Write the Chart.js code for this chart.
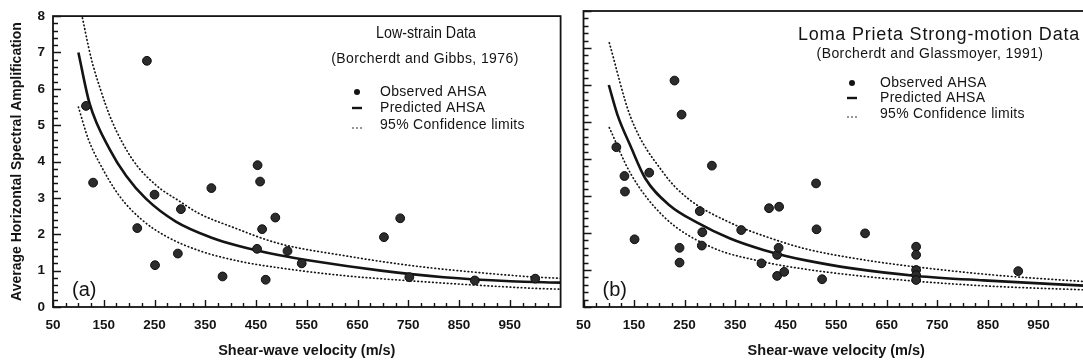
<!DOCTYPE html>
<html>
<head>
<meta charset="utf-8">
<title>Average horizontal spectral amplification vs shear-wave velocity</title>
<script src="https://cdn.jsdelivr.net/npm/chart.js@4.4.1/dist/chart.umd.min.js"></script>
<style>
  html, body { margin: 0; padding: 0; background: #fff; overflow: hidden; }
  #wrap { position: relative; width: 1083px; height: 362px; overflow: hidden; }
  canvas { position: absolute; top: 0; }
  #chartA { left: 0; }
  #chartB { left: 566px; }
</style>
</head>
<body>
<div id="wrap">
  <canvas id="chartA" width="566" height="362"></canvas>
  <canvas id="chartB" width="534" height="362"></canvas>
</div>
<script>
// tick labels shared by both panels
const velTicks = [50, 150, 250, 350, 450, 550, 650, 750, 850, 950];
const ampTicks = [0, 1, 2, 3, 4, 5, 6, 7, 8];

// (a) low-strain data, Borcherdt and Gibbs 1976
const lowObsVel = [115, 129, 216, 235, 250, 251, 296, 302, 362, 384, 452, 453, 458, 462, 469, 488, 512, 540, 702, 734, 752, 881, 1000];
const lowObsAmp = [5.53, 3.42, 2.17, 6.77, 3.09, 1.15, 1.47, 2.69, 3.27, 0.84, 1.60, 3.90, 3.45, 2.14, 0.75, 2.46, 1.54, 1.20, 1.92, 2.44, 0.82, 0.73, 0.78];
const lowPredVel = [100, 122, 162, 194, 233, 292, 364, 416, 494, 559, 696, 820, 951, 1050];
const lowPredAmp = [7.0, 5.6, 4.33, 3.61, 2.98, 2.35, 1.9, 1.68, 1.43, 1.27, 1.0, 0.82, 0.71, 0.67];
const lowUpperVel = [108, 125, 142, 165, 207, 253, 298, 338, 403, 494, 625, 755, 886, 1003, 1050];
const lowUpperAmp = [7.95, 6.85, 6.05, 5.15, 4.05, 3.35, 2.92, 2.57, 2.2, 1.75, 1.41, 1.14, 0.95, 0.82, 0.79];
const lowLowerVel = [100, 120, 142, 181, 225, 272, 338, 420, 494, 625, 755, 886, 1003, 1050];
const lowLowerAmp = [5.5, 4.6, 3.95, 3.05, 2.4, 1.95, 1.55, 1.25, 1.08, 0.86, 0.72, 0.6, 0.51, 0.49];

// (b) Loma Prieta strong-motion data, Borcherdt and Glassmoyer 1991
const lpObsVel = [115, 131, 132, 151, 180, 230, 240, 240, 244, 280, 284, 285, 304, 362, 402, 417, 433, 433, 436, 437, 447, 510, 511, 522, 607, 708, 708, 708, 708, 708, 910];
const lpObsAmp = [4.32, 3.54, 3.12, 1.83, 3.63, 6.12, 1.60, 1.20, 5.20, 2.59, 1.66, 2.02, 3.82, 2.08, 1.18, 2.67, 1.41, 0.84, 1.60, 2.71, 0.95, 3.34, 2.10, 0.75, 1.99, 1.63, 1.41, 1.00, 0.86, 0.73, 0.97];
const lpPredVel = [100, 117, 143, 172, 220, 275, 340, 406, 450, 490, 578, 709, 841, 1050];
const lpPredAmp = [6.0, 5.2, 4.35, 3.48, 2.75, 2.28, 1.85, 1.54, 1.38, 1.26, 1.05, 0.84, 0.72, 0.57];
const lpUpperVel = [101, 143, 209, 255, 340, 420, 490, 611, 742, 874, 1050];
const lpUpperAmp = [7.14, 5.14, 3.61, 2.95, 2.28, 1.86, 1.57, 1.26, 1.03, 0.85, 0.68];
const lpLowerVel = [101, 143, 209, 301, 406, 490, 611, 742, 874, 1050];
const lpLowerAmp = [4.85, 3.61, 2.44, 1.63, 1.22, 1.02, 0.82, 0.66, 0.55, 0.46];

const INK = '#141414';
const SANS = "'Liberation Sans', Arial, Helvetica, sans-serif";

const pts = (xs, ys) => xs.map((x, i) => ({ x, y: ys[i] }));

function panelData(obsV, obsA, predV, predA, upV, upA, loV, loA) {
  const dotted = { showLine: true, borderColor: INK, borderWidth: 1.7, borderDash: [0.6, 3.1],
    borderCapStyle: 'round', pointRadius: 0, cubicInterpolationMode: 'monotone' };
  return {
    datasets: [
      { label: 'Observed AHSA', data: pts(obsV, obsA), showLine: false, pointRadius: 4.4,
        pointBackgroundColor: '#2c2c2c', pointBorderColor: '#0c0c0c', pointBorderWidth: 1 },
      { label: 'Predicted AHSA', data: pts(predV, predA), showLine: true, borderColor: INK,
        borderWidth: 2.6, pointRadius: 0, cubicInterpolationMode: 'monotone' },
      Object.assign({ label: 'Upper 95%', data: pts(upV, upA) }, dotted),
      Object.assign({ label: 'Lower 95%', data: pts(loV, loA) }, dotted)
    ]
  };
}

function xScale() {
  return {
    type: 'linear', min: 50, max: 1050,
    afterBuildTicks: s => {
      const t = [];
      for (let v = 50; v < 1050; v += 25) t.push({ value: v });
      s.ticks = t;
    },
    afterFit: s => { s.height = 55; },
    grid: { display: false, drawTicks: false }, border: { display: false },
    ticks: { autoSkip: false, maxRotation: 0, padding: 10, color: INK,
      font: { family: SANS, size: 13.5, weight: 'bold' },
      callback: v => velTicks.includes(v) ? String(v) : '' },
    title: { display: true, text: 'Shear-wave velocity (m/s)', color: INK,
      font: { family: SANS, size: 14.5, weight: 'bold' }, padding: { top: 0, bottom: 2 } }
  };
}

function yScale(withLabels) {
  return {
    type: 'linear', min: 0, max: 8,
    afterBuildTicks: s => {
      const t = [];
      for (let i = 0; i <= 40; i++) t.push({ value: i / 5 });
      s.ticks = t;
    },
    afterFit: s => { s.width = withLabels ? 53 : 17; },
    grid: { display: false, drawTicks: false }, border: { display: false },
    ticks: { display: withLabels, autoSkip: false, padding: 8, color: INK,
      font: { family: SANS, size: 13.5, weight: 'bold' },
      callback: v => ampTicks.includes(v) ? String(v) : '' },
    title: { display: withLabels, text: 'Average Horizontal Spectral Amplification', color: INK,
      font: { family: SANS, size: 14, weight: 'bold' }, padding: { top: 9, bottom: 0 } }
  };
}

// frame with inward tick marks on the bottom and left edges
const frameTicks = {
  id: 'frameTicks',
  afterDraw(chart) {
    const { ctx, chartArea: a, scales: { x, y } } = chart;
    ctx.save();
    ctx.strokeStyle = INK;
    ctx.lineWidth = 1.8;
    ctx.strokeRect(a.left, a.top, a.right - a.left, a.bottom - a.top);
    ctx.lineWidth = 1.4;
    ctx.beginPath();
    x.ticks.forEach(t => {
      const px = Math.round(x.getPixelForValue(t.value)) + 0.5;
      const len = velTicks.includes(t.value) ? 7 : 4;
      ctx.moveTo(px, a.bottom);
      ctx.lineTo(px, a.bottom - len);
    });
    y.ticks.forEach(t => {
      const py = Math.round(y.getPixelForValue(t.value)) + 0.5;
      const len = ampTicks.includes(t.value) ? 8 : 5;
      ctx.moveTo(a.left, py);
      ctx.lineTo(a.left + len, py);
    });
    ctx.stroke();
    ctx.restore();
  }
};

// panel heading, source note, key and panel letter
const notes = {
  id: 'notes',
  afterDraw(chart, args, o) {
    const { ctx, chartArea: a } = chart;
    ctx.save();
    ctx.fillStyle = INK;
    ctx.strokeStyle = INK;
    ctx.textBaseline = 'middle';
    ctx.textAlign = 'center';

    // heading, squeezed horizontally when the panel uses a condensed face
    ctx.save();
    ctx.translate(o.titleX, o.titleY);
    ctx.scale(o.titleSqueeze, 1);
    ctx.font = o.titleFont;
    ctx.letterSpacing = o.titleSpacing;
    ctx.fillText(o.title, 0, 0);
    ctx.restore();

    ctx.font = '14px ' + SANS;
    ctx.letterSpacing = '0.4px';
    ctx.fillText(o.source, o.sourceX, o.sourceY);

    const [r0, r1, r2] = o.rows;
    const sx = o.symX;
    ctx.textAlign = 'left';
    ctx.letterSpacing = '0.3px';
    ctx.beginPath();
    ctx.arc(sx, r0, 3, 0, Math.PI * 2);
    ctx.fill();
    ctx.fillText('Observed AHSA', o.textX, r0);
    ctx.lineWidth = 2.4;
    ctx.beginPath();
    ctx.moveTo(sx - 5, r1);
    ctx.lineTo(sx + 5, r1);
    ctx.stroke();
    ctx.fillText('Predicted AHSA', o.textX, r1);
    [-4, 0, 4].forEach(d => {
      ctx.beginPath();
      ctx.arc(sx + d, r2 + 3, 0.8, 0, Math.PI * 2);
      ctx.fill();
    });
    ctx.fillText('95% Confidence limits', o.textX, r2);

    ctx.letterSpacing = '0px';
    ctx.font = '20px ' + SANS;
    ctx.fillText(o.tag, a.left + 19, 290);
    ctx.restore();
  }
};

function makePanel(id, data, withLabels, pad, note) {
  return new Chart(document.getElementById(id), {
    type: 'scatter',
    data: data,
    options: {
      responsive: false,
      animation: false,
      layout: { padding: pad },
      scales: { x: xScale(), y: yScale(withLabels) },
      plugins: { legend: { display: false }, tooltip: { enabled: false }, notes: note }
    },
    plugins: [frameTicks, notes]
  });
}

makePanel('chartA',
  panelData(lowObsVel, lowObsAmp, lowPredVel, lowPredAmp, lowUpperVel, lowUpperAmp, lowLowerVel, lowLowerAmp),
  true, { top: 11, right: 2, left: 0, bottom: 0 },
  { title: 'Low-strain Data', titleFont: '17px ' + SANS, titleSqueeze: 0.84, titleSpacing: '0px',
    titleX: 426, titleY: 33,
    source: '(Borcherdt and Gibbs, 1976)', sourceX: 425, sourceY: 59,
    symX: 357, textX: 380, rows: [92, 108, 125], tag: '(a)' });

makePanel('chartB',
  panelData(lpObsVel, lpObsAmp, lpPredVel, lpPredAmp, lpUpperVel, lpUpperAmp, lpLowerVel, lpLowerAmp),
  false, { top: 11, right: 11, left: 0, bottom: 0 },
  { title: 'Loma Prieta Strong-motion Data', titleFont: '18px ' + SANS, titleSqueeze: 1, titleSpacing: '0.8px',
    titleX: 373, titleY: 35,
    source: '(Borcherdt and Glassmoyer, 1991)', sourceX: 364, sourceY: 54,
    symX: 286, textX: 314, rows: [83, 98, 114], tag: '(b)' });
</script>
</body>
</html>
